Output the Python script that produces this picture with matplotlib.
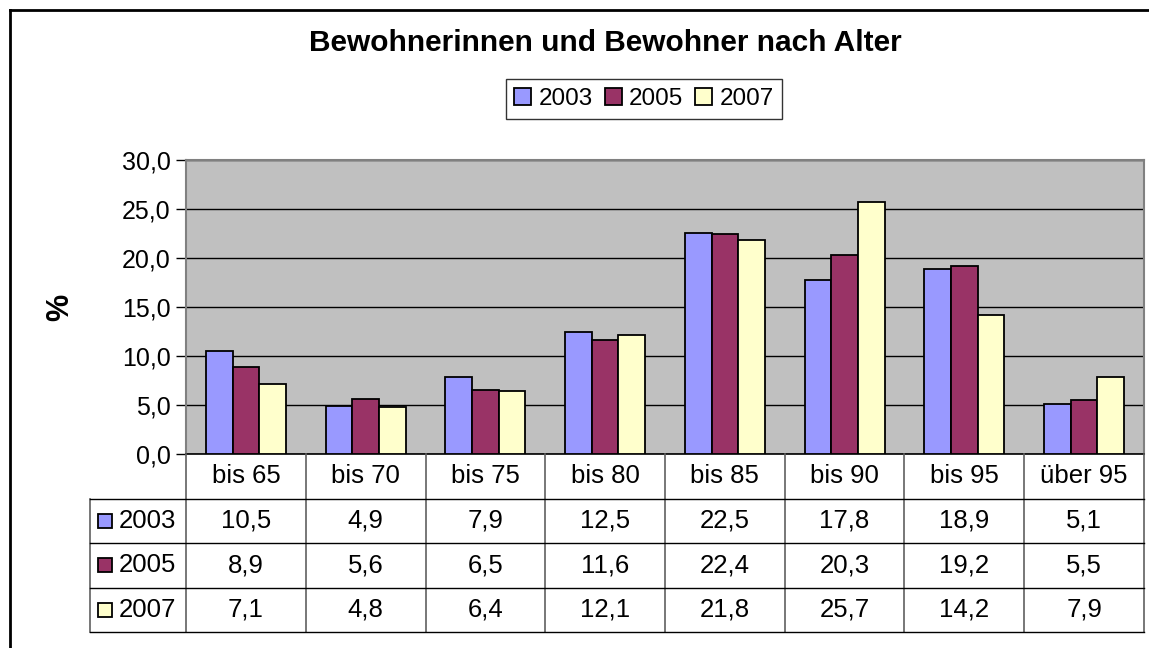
import numpy as np
import matplotlib
matplotlib.use("Agg")
from matplotlib import pyplot as plt
from matplotlib.lines import Line2D
from matplotlib.patches import Patch

categories = ["bis 65", "bis 70", "bis 75", "bis 80", "bis 85", "bis 90", "bis 95", "über 95"]
years = ["2003", "2005", "2007"]
v2003 = [10.5, 4.9, 7.9, 12.5, 22.5, 17.8, 18.9, 5.1]
v2005 = [8.9, 5.6, 6.5, 11.6, 22.4, 20.3, 19.2, 5.5]
v2007 = [7.1, 4.8, 6.4, 12.1, 21.8, 25.7, 14.2, 7.9]
series = [v2003, v2005, v2007]
colors = ["#9999FF", "#993366", "#FFFFCC"]

plt.rcParams["font.family"] = ["Liberation Sans", "DejaVu Sans"]

W, H = 1149, 648
fig = plt.figure(figsize=(W / 100, H / 100), dpi=100)


def box(l, t, r, b):
    return [l / W, 1 - b / H, (r - l) / W, (b - t) / H]


def fmt(v):
    return f"{v:.1f}".replace(".", ",")


# bar chart
ax = fig.add_axes(box(186, 160, 1144, 454))
ax.set_facecolor("#C0C0C0")
x = np.arange(len(categories))
bw = 0.222
for i, (vals, c, y) in enumerate(zip(series, colors, years)):
    ax.bar(x + (i - 1) * bw, vals, bw, color=c, edgecolor="black", linewidth=1.3, label=y, zorder=3)
ax.set_xlim(-0.5, len(categories) - 0.5)
ax.set_ylim(0, 30)
ax.set_yticks(np.arange(0, 31, 5))
ax.yaxis.set_major_formatter(lambda v, p: fmt(v))
ax.set_axisbelow(True)
ax.grid(axis="y", color="black", linewidth=1)
ax.set_xticks([])
for s in ["left", "top", "right"]:
    ax.spines[s].set_color("#808080")
    ax.spines[s].set_linewidth(1.5)
ax.spines["bottom"].set_color("black")
ax.spines["bottom"].set_linewidth(1.2)
ax.tick_params(axis="y", length=7, width=1, labelsize=18, pad=4, color="black")

fig.text(60 / W, 1 - 307 / H, "%", rotation=90, fontweight="bold", fontsize=22,
         ha="center", va="center")
fig.text(605 / W, 1 - 43 / H, "Bewohnerinnen und Bewohner nach Alter", fontweight="bold",
         fontsize=21.5, ha="center", va="center")

handles = [Patch(facecolor=c, edgecolor="black", linewidth=1.3, label=y) for c, y in zip(colors, years)]
leg = fig.legend(handles=handles, loc="center", bbox_to_anchor=(644 / W, 1 - 99 / H), ncol=3,
                 fontsize=17.5, frameon=True, fancybox=False, handlelength=0.7, handleheight=0.7,
                 handletextpad=0.3, columnspacing=0.5, borderpad=0.35, borderaxespad=0)
leg.get_frame().set_edgecolor("black")
leg.get_frame().set_linewidth(1)

# data table below the chart
lab_w = 96 / 119.75
tax = fig.add_axes(box(90, 454, 1144, 632))
tax.set_xlim(-0.5 - lab_w, len(categories) - 0.5)
tax.set_ylim(4, 0)
tax.axis("off")
for k in range(len(categories) + 1):
    tax.plot([k - 0.5, k - 0.5], [0, 4], color="#606060", lw=1.2, clip_on=False)
tax.plot([-0.5 - lab_w] * 2, [1, 4], color="#606060", lw=1.2, clip_on=False)
for r in range(1, 5):
    tax.plot([-0.5 - lab_w, len(categories) - 0.5], [r, r], color="black", lw=1, clip_on=False)
for i, cat in enumerate(categories):
    tax.text(i, 0.5, cat, ha="center", va="center", fontsize=18.5)
for r, (vals, c, y) in enumerate(zip(series, colors, years)):
    yy = r + 1.5
    tax.plot([-0.5 - lab_w + 15 / 119.75], [yy], marker="s", ms=10, mfc=c, mec="black",
             mew=1.3, clip_on=False)
    tax.text(-0.5 - lab_w + 29 / 119.75, yy, y, ha="left", va="center", fontsize=18.5)
    for i, v in enumerate(vals):
        tax.text(i, yy, fmt(v), ha="center", va="center", fontsize=18.5)

# outer chart frame (left and top edges)
fig.add_artist(Line2D([10 / W, 10 / W], [1 - 10 / H, 0], color="black", lw=2))
fig.add_artist(Line2D([10 / W, 1], [1 - 10 / H, 1 - 10 / H], color="black", lw=2))

fig.savefig("out.png", dpi=100)
